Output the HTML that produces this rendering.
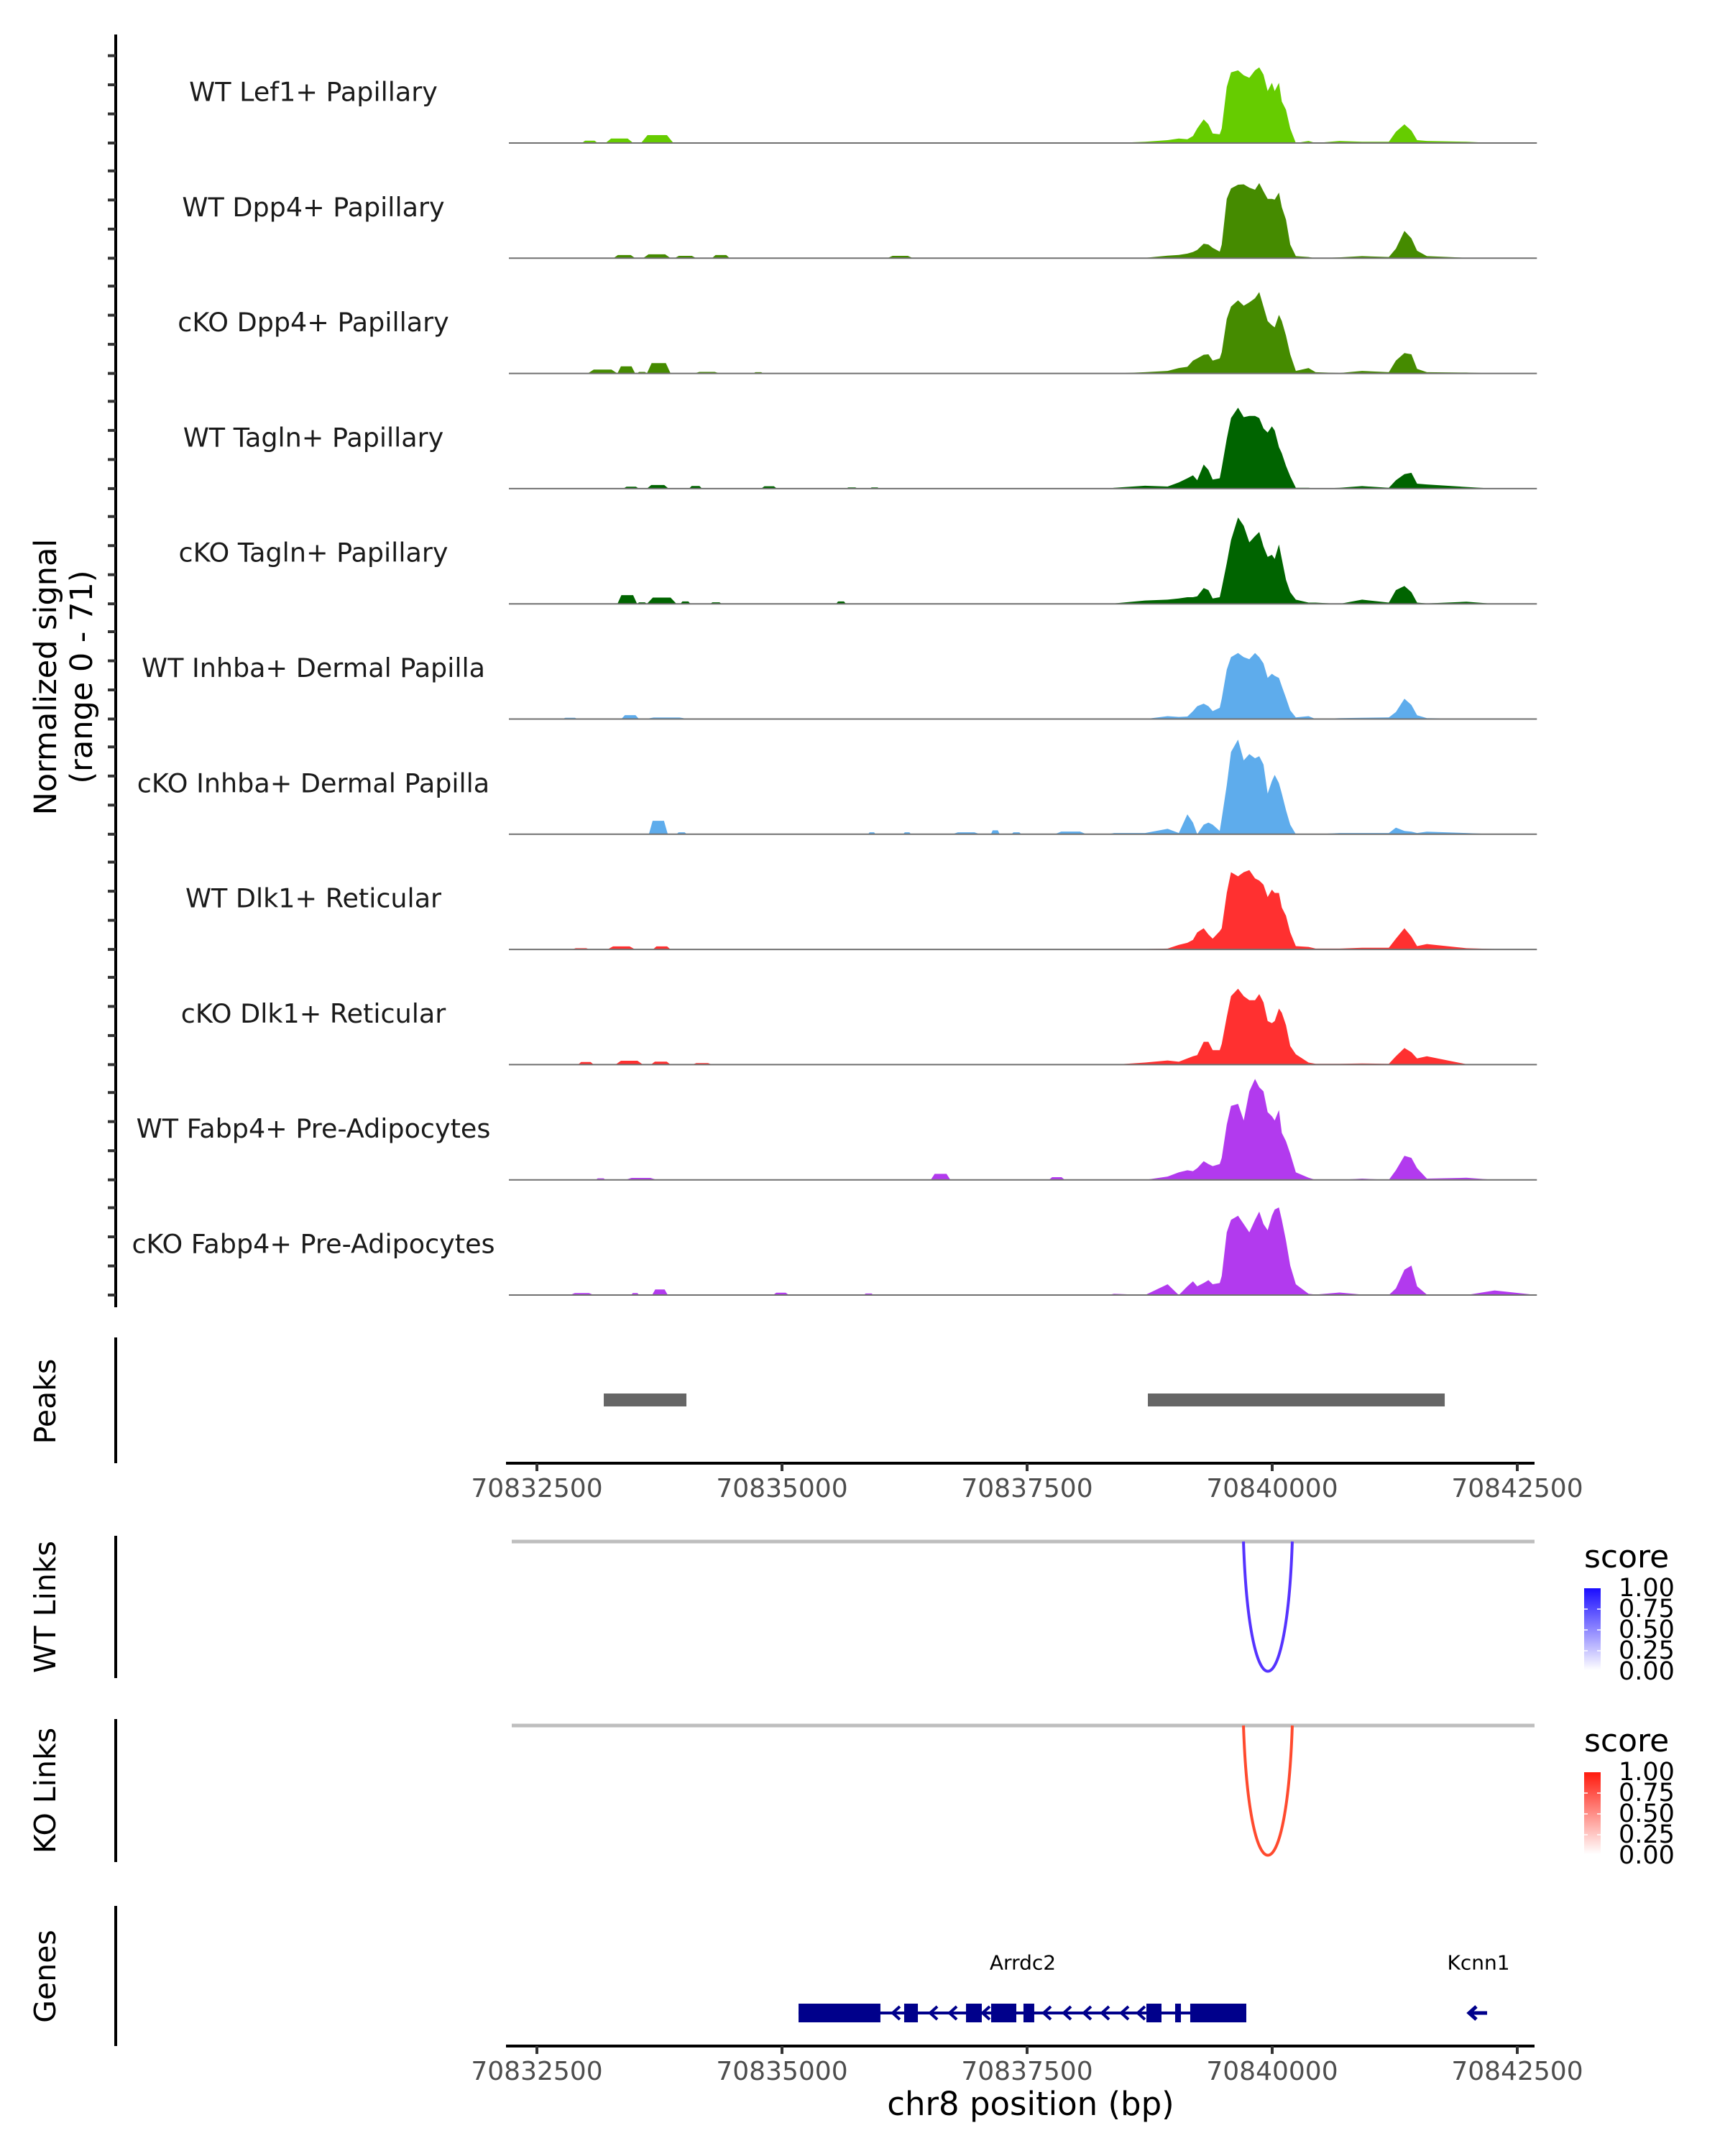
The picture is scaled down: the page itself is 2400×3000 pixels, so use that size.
<!DOCTYPE html>
<html><head><meta charset="utf-8"><style>
html,body{margin:0;padding:0;background:#fff;}
svg{display:block;font-family:"DejaVu Sans","Liberation Sans",sans-serif;}
</style></head><body>
<svg id="chart" width="2400" height="3000" viewBox="0 0 2400 3000" xmlns="http://www.w3.org/2000/svg">
<defs>
<linearGradient id="gblue" x1="0" y1="0" x2="0" y2="1"><stop offset="0" stop-color="#1a0dff"/><stop offset="1" stop-color="#ffffff"/></linearGradient>
<linearGradient id="gred" x1="0" y1="0" x2="0" y2="1"><stop offset="0" stop-color="#ff1a0d"/><stop offset="1" stop-color="#ffffff"/></linearGradient>
</defs>
<g id="tracks"></g>
<g id="yaxis"></g>
<text transform="translate(78,942) rotate(-90)" text-anchor="middle" font-size="43" fill="#000">Normalized signal</text>
<text transform="translate(128,942) rotate(-90)" text-anchor="middle" font-size="43" fill="#000">(range 0 - 71)</text>
<g id="peaks"></g>
<g id="links"></g>
<g id="genes"></g>
</svg>
<script>
// ---- data ----
const regionStart = 70832214;
const regionEnd = 70842700;
const trackNames = ["WT Lef1+ Papillary","WT Dpp4+ Papillary","cKO Dpp4+ Papillary","WT Tagln+ Papillary","cKO Tagln+ Papillary","WT Inhba+ Dermal Papilla","cKO Inhba+ Dermal Papilla","WT Dlk1+ Reticular","cKO Dlk1+ Reticular","WT Fabp4+ Pre-Adipocytes","cKO Fabp4+ Pre-Adipocytes"];
const trackColors = ["#66cc00","#458b00","#458b00","#006400","#006400","#5eacec","#5eacec","#ff3030","#ff3030","#b23aee","#b23aee"];
const gridPos = [70838387,70838703,70838933,70839048,70839135,70839192,70839235,70839301,70839350,70839393,70839465,70839485,70839537,70839580,70839652,70839710,70839767,70839825,70839868,70839911,70839954,70839997,70840026,70840069,70840098,70840141,70840184,70840241,70840371,70840443,70840687,70840917,70841190,70841262,70841349,70841420,70841478,70841578,70841981,70842268];
const sig1 = [0,0.8,1.9,3,2.5,4.7,9.7,15.8,12.5,6.4,5.8,9.7,37.5,47.2,48.6,45.3,43.6,48.6,50.6,45.8,34.7,40.3,34.7,40.3,27.8,22.2,9.7,0,1.4,0,1.4,0.8,0.8,7.5,12.5,8.3,1.9,1.4,0.8,0];
const sig2 = [0,0.3,1.7,2.2,3.1,4.2,5.6,9.7,9.2,6.9,4.4,9.2,39.7,46.7,49.2,49.4,47.2,45.8,50.3,44.7,39.7,39.7,39.2,43.9,34.2,25.8,9.2,1.4,0.8,0,0.6,1.4,0.8,6.4,18.3,13.3,5,1.4,0.3,0];
const sig3 = [0,0.8,1.7,3.6,4.4,8.6,10,12.5,12.8,8.6,10,14.2,36.4,44.7,48.9,45.3,47.5,50.3,54.4,44.7,35,32.2,30.8,39.2,35,25.3,12.8,1.7,3.6,0.8,0.3,1.7,0.8,8.6,13.6,12.8,3.1,0.8,0.6,0];
const sig4 = [0.6,1.9,1.4,4.2,6.9,8.9,5.6,16.1,12.5,6.1,6.9,13.9,33.3,47.2,54.2,47.8,48.6,48.6,47.2,40.3,37.5,41.7,38.9,27.8,23.6,15.3,8.3,0.6,0.6,0,0.6,1.7,0.6,5.6,9.7,10.6,3.3,2.8,1.1,0];
const sig5 = [0.3,2.2,2.8,3.6,4.4,4.4,5,10.6,9.2,3.6,4.4,10.6,27.2,42.5,57.8,52.2,41.1,45.3,48.1,38.3,31.4,32.8,30,39.7,30,16.1,7.8,2.8,0.8,0.8,0,2.8,0.8,9.2,11.9,7.8,0.8,0.3,1.4,0];
const sig6 = [0,0,1.9,1.4,1.7,5.3,8.6,10.3,8.6,5.3,7.5,13.6,33.1,41.4,44.2,41.4,40,44.2,41.4,37.2,27.5,30.3,28.9,27.5,21.9,14.2,5.8,1.1,1.9,0,0.6,0.8,1.1,4.7,13.6,9.4,2.5,0.6,0.3,0];
const sig7 = [0.8,0.8,3.6,0.8,13.3,7.8,0,6.4,7.8,6.4,2.2,10.6,32.8,55,63.3,49.4,53.6,50.8,52.2,46.7,27.2,35.6,39.7,34.2,27.2,16.1,6.4,0,0,0,0.8,0.8,0.8,4.4,2.2,1.7,0.8,1.7,0.8,0];
const sig8 = [0,0.3,0.6,3.1,4.4,6.4,11.4,14.2,10,7.2,12.2,14.2,37.8,51.7,48.9,51.7,53.1,47.5,46.1,43.3,35,40,37.8,37.8,28.1,22.5,11.4,2.2,1.7,0.6,0.6,1.1,1.1,7.2,14.2,8.6,2.2,3.6,0.8,0.3];
const sig9 = [0,1.4,2.8,1.9,4.2,5.6,6.4,15.3,15.3,9.7,9.7,13.9,31.9,45.8,50.8,45.8,43.1,43.1,47.2,41.7,29.2,27.8,29.2,37.5,34.7,26.4,12.5,6.9,1.4,0.6,0.6,0.8,0.6,5.6,11.1,8.3,4.2,5.6,0.3,0];
const sig10 = [0,0,2.2,5,6.4,5.8,7.8,12.5,10.6,9.2,10.6,14.7,36.9,49.4,50.8,39.7,59.2,67.5,61.9,59.2,45.3,42.5,39.7,46.7,31.4,25.8,17.5,5,1.4,0,0,0.8,0,6.4,16.1,14.7,7.8,0.8,1.4,0];
const sig11 = [0.8,0,7.2,0,5.8,9.2,5.8,8.1,10,7.2,8.1,12.8,41.9,50.3,53.1,47.5,41.9,50.3,55.8,47.5,43.3,53.1,57.2,58.6,50.3,36.4,19.7,7.2,0.8,0.3,1.7,0.3,0,4.4,16.9,19.7,5.8,0.3,0,3.1];
// small upstream bumps: [start, end, height]
const bumps1 = [[70832959,70833120,1.6],[70833200,70833482,3],[70833562,70833892,5.3]];
const bumps2 = [[70833281,70833502,2.1],[70833582,70833864,2.6],[70833904,70834125,1.6],[70834286,70834467,2.1],[70836075,70836336,1.6]];
const bumps3 = [[70833019,70833321,2.6],[70833321,70833502,4.7],[70833522,70833622,1],[70833622,70833864,6.9],[70834105,70834366,1],[70834708,70834808,0.8]];
const bumps4 = [[70833381,70833542,1.3],[70833622,70833843,2.4],[70834052,70834185,1.8],[70834788,70834949,1.6],[70835652,70835773,0.8],[70835894,70835994,0.8]];
const bumps5 = [[70833321,70833522,5.8],[70833522,70833622,1],[70833622,70833924,4.2],[70833964,70834065,1.6],[70834266,70834386,1],[70835552,70835652,1.6]];
const bumps6 = [[70832758,70832919,0.8],[70833361,70833542,2.6],[70833602,70834044,1]];
const bumps7 = [[70833642,70833835,9],[70833924,70834028,1.3],[70835878,70835954,1.3],[70836236,70836316,1.3],[70836738,70837019,1.3],[70837131,70837220,2.6],[70837341,70837441,1.3],[70837783,70838105,1.8]];
const bumps8 = [[70832859,70833039,0.8],[70833220,70833502,2],[70833683,70833864,2]];
const bumps9 = [[70832919,70833080,1.8],[70833301,70833582,2.6],[70833663,70833864,2],[70834085,70834286,1]];
const bumps10 = [[70833100,70833200,1],[70833401,70833723,1.3],[70836517,70836718,4],[70837723,70837884,1.8]];
const bumps11 = [[70832838,70833080,1.3],[70833462,70833542,1.3],[70833675,70833835,3.7],[70834909,70835070,1.6],[70835833,70835934,1]];
const peakStarts = [70833182,70838732];
const peakEnds = [70834025,70841760];
const axisTicks = [70832500,70835000,70837500,70840000,70842500];
const wtLinkStart = [70839707];
const wtLinkEnd = [70840205];
const koLinkStart = [70839707];
const koLinkEnd = [70840205];
const exonStarts = [70835169,70836246,70836877,70837133,70837463,70838717,70839010,70839164];
const exonEnds = [70836004,70836386,70837038,70837390,70837573,70838871,70839069,70839736];
const chevronPos = [70836158,70836540,70836738,70837075,70837698,70837903,70838108,70838292,70838490,70838658];
const geneLabels = ["Arrdc2","Kcnn1"];
const geneLabelPos = [70837456,70842104];
const kcnn1Start = [70842009];
const legendTicks = ["1.00","0.75","0.50","0.25","0.00"];

// ---- scales ----
const NS = "http://www.w3.org/2000/svg";
const xs = bp => 747 + (bp - 70832500) * 0.1364;
const X0 = xs(regionStart), X1 = xs(regionEnd);
const BASE0 = 199, STEP = 160.3, PXU = 2.08;
function mk(tag, attrs, parent){ const e=document.createElementNS(NS,tag); for(const k in attrs) e.setAttribute(k,attrs[k]); parent.appendChild(e); return e; }

const sigs=[sig1,sig2,sig3,sig4,sig5,sig6,sig7,sig8,sig9,sig10,sig11];
const bumps=[bumps1,bumps2,bumps3,bumps4,bumps5,bumps6,bumps7,bumps8,bumps9,bumps10,bumps11];
const tg=document.getElementById('tracks');
for(let i=0;i<11;i++){
  const base=BASE0+STEP*i;
  const pts=[[regionStart,0]];
  bumps[i].forEach(b=>{const w=b[1]-b[0]; pts.push([b[0],0],[b[0]+w*0.2,b[2]],[b[1]-w*0.2,b[2]],[b[1],0]);});
  pts.push([gridPos[0]-60,0]);
  gridPos.forEach((p,j)=>pts.push([p,sigs[i][j]]));
  pts.push([regionEnd,0]);
  pts.sort((a,b)=>a[0]-b[0]);
  let d='M'+X0.toFixed(1)+','+base;
  pts.forEach(p=>{d+=' L'+xs(p[0]).toFixed(1)+','+(base-p[1]*PXU).toFixed(1);});
  d+=' L'+X1.toFixed(1)+','+base+' Z';
  const a=mk('path',{d:d,fill:trackColors[i]},tg);
  
  
  const l=mk('line',{x1:X0,x2:X1,y1:base,y2:base,stroke:'#707070','stroke-width':2},tg);
  
  
  const t=mk('text',{x:436,y:base-71,'text-anchor':'middle','dominant-baseline':'central','font-size':36.5,fill:'#1a1a1a'},tg);
  t.textContent=trackNames[i];
  
  
}
// y axis
const ya=document.getElementById('yaxis');
mk('line',{x1:161,x2:161,y1:48,y2:1819,stroke:'#000','stroke-width':4},ya);
for(let i=0;i<11;i++){ for(let k=0;k<4;k++){ const y=BASE0+STEP*i-k*40.5; const tk=mk('line',{x1:150,x2:161,y1:y,y2:y,stroke:'#333','stroke-width':4},ya);
  
   } }

function panelLabel(g,txt,cy,name){ const t=mk('text',{transform:'translate(77,'+cy+') rotate(-90)','text-anchor':'middle','font-size':41,fill:'#000'},g); t.textContent=txt;
  
   }
function xAxis(g,y,name){
  mk('line',{x1:704,x2:2135,y1:y,y2:y,stroke:'#000','stroke-width':4},g);
  axisTicks.forEach(v=>{ const x=xs(v); mk('line',{x1:x,x2:x,y1:y,y2:y+11,stroke:'#333','stroke-width':4},g);
    const t=mk('text',{x:x,y:y+47,'text-anchor':'middle','font-size':36,fill:'#4d4d4d'},g); t.textContent=v;
    
     });
}
// peaks
const pg=document.getElementById('peaks');
mk('line',{x1:161,x2:161,y1:1861,y2:2036,stroke:'#000','stroke-width':4},pg);
panelLabel(pg,'Peaks',1950,'peaks-label');
peakStarts.forEach((s,i)=>{ const r=mk('rect',{x:xs(s),y:1939,width:xs(peakEnds[i])-xs(s),height:18,fill:'#666666'},pg);
  
   });
xAxis(pg,2036,'peaks-x-tick-label');

// links
const lg=document.getElementById('links');
function linkPanel(top,axTop,axBot,label,lname,ss,ee,col,grad,legendTop){
  mk('line',{x1:161,x2:161,y1:axTop,y2:axBot,stroke:'#000','stroke-width':4},lg);
  panelLabel(lg,label,(axTop+axBot)/2,lname);
  mk('line',{x1:712,x2:2135,y1:top,y2:top,stroke:'#bebebe','stroke-width':5},lg);
  ss.forEach((s,i)=>{ const a=xs(s), b=xs(ee[i]), depth=181;
    const p=mk('path',{d:'M'+a+','+top+' C'+(a+(b-a)*0.12)+','+(top+depth*1.33)+' '+(b-(b-a)*0.12)+','+(top+depth*1.33)+' '+b+','+top,fill:'none',stroke:col,'stroke-width':4},lg);
    
     });
  const st=mk('text',{x:2204,y:legendTop-29,'font-size':44,fill:'#000'},lg); st.textContent='score';
  
  
  const cb=mk('rect',{x:2204,y:legendTop,width:23,height:114,fill:'url(#'+grad+')'},lg);
  
  
  legendTicks.forEach((v,k)=>{ const y=legendTop+k*29;
    if(k>0&&k<4){ mk('line',{x1:2204,x2:2209,y1:y,y2:y,stroke:'#fff','stroke-width':1.5},lg); mk('line',{x1:2222,x2:2227,y1:y,y2:y,stroke:'#fff','stroke-width':1.5},lg); }
    const t=mk('text',{x:2252,y:y,'dominant-baseline':'central','font-size':35,fill:'#000'},lg); t.textContent=v;
    
     });
}
linkPanel(2145,2137,2335,'WT Links','wt-links-label',wtLinkStart,wtLinkEnd,'#5533ff','gblue',2210);
linkPanel(2401,2392,2591,'KO Links','ko-links-label',koLinkStart,koLinkEnd,'#ff4a2e','gred',2466);

// genes
const gg=document.getElementById('genes');
mk('line',{x1:161,x2:161,y1:2652,y2:2847,stroke:'#000','stroke-width':4},gg);
panelLabel(gg,'Genes',2750,'genes-label');
const GY=2801, NAVY='#00008b';
mk('line',{x1:xs(exonStarts[0]),x2:xs(exonEnds[exonEnds.length-1]),y1:GY,y2:GY,stroke:NAVY,'stroke-width':4},gg);
exonStarts.forEach((s,i)=>{ const r=mk('rect',{x:xs(s),y:GY-13,width:xs(exonEnds[i])-xs(s),height:26,fill:NAVY},gg);
  
   });
chevronPos.forEach(p=>{ const x=xs(p); const c=mk('path',{d:'M'+(x+6)+','+(GY-9)+' L'+(x-4)+','+GY+' L'+(x+6)+','+(GY+9),fill:'none',stroke:NAVY,'stroke-width':4},gg);
  
   });
const kx=xs(kcnn1Start[0]);
const ka=mk('path',{d:'M'+(kx+25)+','+GY+' L'+kx+','+GY+' M'+(kx+10)+','+(GY-9)+' L'+kx+','+GY+' L'+(kx+10)+','+(GY+9),fill:'none',stroke:NAVY,'stroke-width':5},gg);


geneLabels.forEach((g,i)=>{ const t=mk('text',{x:xs(geneLabelPos[i]),y:2731,'text-anchor':'middle','dominant-baseline':'central','font-size':28,fill:'#000'},gg); t.textContent=g;
  
   });
xAxis(gg,2847,'genes-x-tick-label');
const xt=mk('text',{x:1434,y:2943,'text-anchor':'middle','font-size':45,fill:'#000'},gg); xt.textContent='chr8 position (bp)';


</script>
</body></html>
